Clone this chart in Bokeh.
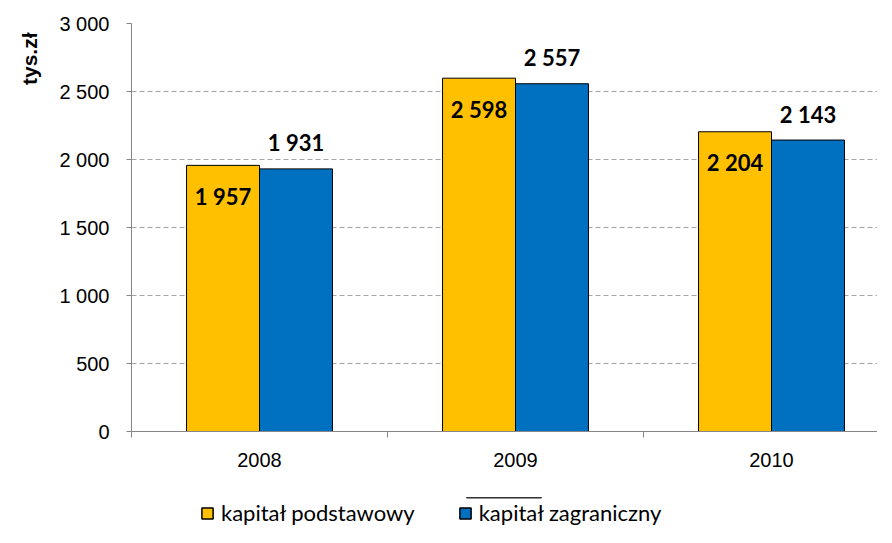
from bokeh.plotting import figure
from bokeh.layouts import column
from bokeh.models import (Range1d, FixedTicker, Legend, LegendItem, Title, ColumnDataSource)
from bokeh.core.properties import value
from bokeh.embed import file_html
from bokeh.resources import INLINE

years = ["2008", "2009", "2010"]
podstawowy = [1957, 2598, 2204]
zagraniczny = [1931, 2557, 2143]
y_ticks = [0, 500, 1000, 1500, 2000, 2500, 3000]
series_names = ["kapitał podstawowy", "kapitał zagraniczny"]
colors = ["#FFC000", "#0070C0"]

def fmt(v):
    return f"{v:,}".replace(",", " ")

x_idx = list(range(len(years)))
off = 0.1425
bw = 0.285
W = 876
H1, H2 = 497, 30
LEFT = 130
FW = W - LEFT

p = figure(output_backend="svg", toolbar_location=None, width=W, height=H1,
           frame_width=FW, frame_height=408,
           min_border_left=LEFT, min_border_right=0, min_border_top=23, min_border_bottom=H1 - 23 - 408,
           x_range=Range1d(-0.5, -0.5 + FW / 256), y_range=Range1d(0, 3000))
p.outline_line_color = None
p.background_fill_color = "white"

src_a = ColumnDataSource(dict(x=[i - off for i in x_idx], top=podstawowy,
                              lab=[fmt(v) for v in podstawowy]))
src_b = ColumnDataSource(dict(x=[i + off for i in x_idx], top=zagraniczny,
                              lab=[fmt(v) for v in zagraniczny]))
p.vbar(x="x", top="top", width=bw, source=src_a, fill_color=colors[0],
       line_color="black", line_width=1)
p.vbar(x="x", top="top", width=bw, source=src_b, fill_color=colors[1],
       line_color="black", line_width=1)

p.text(x="x", y="top", text="lab", source=src_a, y_offset=31,
       text_align="center", text_baseline="middle", text_font=value("Lato"),
       text_font_style="bold", text_font_size="22px", text_color="black")
p.text(x="x", y="top", text="lab", source=src_b, y_offset=-26,
       text_align="center", text_baseline="middle", text_font=value("Lato"),
       text_font_style="bold", text_font_size="22px", text_color="black")

# y axis
p.yaxis.ticker = FixedTicker(ticks=y_ticks)
p.yaxis.major_label_overrides = {t: fmt(t) for t in y_ticks}
p.yaxis.axis_line_color = "#868686"
p.yaxis.major_tick_line_color = "#868686"
p.yaxis.major_tick_out = 5
p.yaxis.major_tick_in = 0
p.yaxis.minor_tick_line_color = None
p.yaxis.major_label_standoff = 17
p.yaxis.major_label_text_font = "Liberation Sans"
p.yaxis.major_label_text_font_size = "20px"
p.yaxis.major_label_text_color = "black"

# x axis
p.xaxis.ticker = FixedTicker(ticks=x_idx, minor_ticks=[-0.5, 0.5, 1.5, 2.5])
p.xaxis.major_label_overrides = {i: y for i, y in zip(x_idx, years)}
p.xaxis.axis_line_color = "#868686"
p.xaxis.major_tick_line_color = None
p.xaxis.minor_tick_line_color = "#868686"
p.xaxis.minor_tick_out = 6
p.xaxis.minor_tick_in = 0
p.xaxis.major_label_standoff = 15
p.xaxis.major_label_text_font = "Liberation Sans"
p.xaxis.major_label_text_font_size = "20px"
p.xaxis.major_label_text_color = "black"

p.xgrid.grid_line_color = None
p.ygrid.ticker = FixedTicker(ticks=y_ticks[1:])
p.ygrid.grid_line_color = "#A6A6A6"
p.ygrid.grid_line_dash = "5 3"
p.ygrid.grid_line_width = 1

p.add_layout(Title(text="tys.zł", align="right", offset=9, standoff=31,
                   text_font="Liberation Sans", text_font_style="bold",
                   text_font_size="21px", text_line_height=1.0,
                   text_color="black"), "left")

# legend strip (proxy renderers lie outside the visible range)
q = figure(output_backend="svg", toolbar_location=None, width=W, height=H2,
           min_border=0, x_axis_type=None, y_axis_type=None,
           x_range=Range1d(0, 1), y_range=Range1d(0, 1))
q.outline_line_color = None
q.xgrid.grid_line_color = None
q.ygrid.grid_line_color = None
ga = q.vbar(x=[0.5], bottom=[5], top=[6], width=0.1, fill_color=colors[0],
            line_color="black", line_width=1.5)
gb = q.vbar(x=[0.5], bottom=[5], top=[6], width=0.1, fill_color=colors[1],
            line_color="black", line_width=1.5)
legend = Legend(items=[LegendItem(label=series_names[0], renderers=[ga]),
                       LegendItem(label=series_names[1], renderers=[gb])],
                orientation="horizontal", location=(69, 1),
                border_line_color=None, background_fill_alpha=0,
                label_text_font="Lato", label_text_font_size="22px",
                label_text_color="black", label_height=26,
                glyph_width=14, glyph_height=14, label_standoff=7, spacing=43,
                padding=1, margin=0)
q.add_layout(legend)

layout = column(p, q, spacing=0)
open("out.html", "w").write(file_html(layout, INLINE))
